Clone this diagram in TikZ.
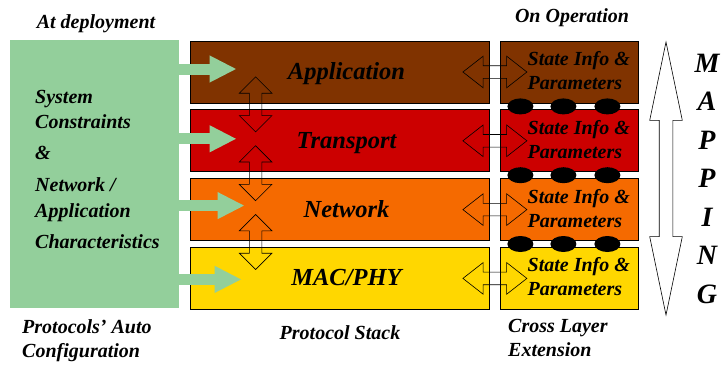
\documentclass[tikz,border=0pt]{standalone}
\usepackage{fontspec}
\setmainfont{Liberation Serif}
\usetikzlibrary{positioning, calc, shapes.arrows, shapes.geometric, arrows.meta}

\definecolor{appbrown}{RGB}{128,51,0}
\definecolor{trnred}{RGB}{204,0,0}
\definecolor{netorange}{RGB}{245,106,0}
\definecolor{macyellow}{RGB}{255,215,0}
\definecolor{sysgreen}{RGB}{147,207,155}

\tikzset{
  txt/.style={font=\bfseries\itshape\fontsize{20}{24}\selectfont, inner sep=0pt},
  stk/.style={font=\bfseries\itshape\fontsize{24.5}{28}\selectfont, inner sep=0pt, text height=15pt, text depth=0pt},
  layer/.style={draw, line width=0.8pt, minimum width=299pt, minimum height=62pt, inner sep=0pt},
  ext/.style={draw, line width=0.8pt, minimum width=138pt, minimum height=62pt, inner sep=0pt},
  bead/.style={ellipse, fill=black, minimum width=26pt, minimum height=16pt, inner sep=0pt},
  garrow/.style={sysgreen, line width=11pt, -{Triangle[length=27pt, width=25pt]}},
  varrow/.style={double arrow, draw, line width=0.6pt, rotate=90, minimum height=55pt,
    inner xsep=0pt, inner ysep=6pt, double arrow head extend=10pt, double arrow tip angle=90},
  harrow/.style={double arrow, draw, line width=0.6pt, minimum height=64pt,
    inner xsep=0pt, inner ysep=6pt, double arrow head extend=9.5pt, double arrow tip angle=76},
  maparrow/.style={double arrow, draw, line width=0.6pt, rotate=90, minimum height=273pt,
    inner xsep=0pt, inner ysep=6.5pt, double arrow head extend=9.5pt, double arrow tip angle=23.5},
  map/.style={font=\bfseries\itshape\fontsize{28}{30}\selectfont, inner sep=0pt}
}

\begin{document}
\begin{tikzpicture}[x=1pt, y=-1pt]
\useasboundingbox (0,0) rectangle (722,364);

\node[fill=sysgreen, minimum width=169pt, minimum height=268pt] (sys) at (94.5,174) {};

\node[layer, fill=appbrown] (app) at (339.5,72) {};
\node[layer, fill=trnred, below=6pt of app] (trn) {};
\node[layer, fill=netorange, below=6pt of trn] (net) {};
\node[layer, fill=macyellow, below=6pt of net] (mac) {};

\node[ext, fill=appbrown, right=11pt of app] (x1) {};
\node[ext, fill=trnred, right=11pt of trn] (x2) {};
\node[ext, fill=netorange, right=11pt of net] (x3) {};
\node[ext, fill=macyellow, right=11pt of mac] (x4) {};

% beads between the cross layer boxes
\foreach \a/\b [count=\k] in {x1/x2, x2/x3, x3/x4}
  \foreach \dx [count=\j] in {20,63,107}
    \node[bead] (b\k\j) at ($(\a.south west)!.5!(\b.north west) + (\dx,0)$) {};

\foreach \n/\t in {app/Application, trn/Transport, net/Network, mac/{MAC/PHY}}
  \node[stk] (t\n) at ([xshift=7pt]\n.center) {\t};

\foreach \n in {1,...,4}
  \node[txt, align=left] (i\n) at ([xshift=9pt, yshift=1.5pt]x\n.center) {State Info \&\\Parameters};

\draw[garrow] ([yshift=3pt]sys.east |- app) -- ([shift={(47pt,3pt)}]app.west);
\draw[garrow] ([yshift=2pt]sys.east |- trn) -- ([shift={(47pt,2pt)}]trn.west);
\draw[garrow] ([yshift=4pt]sys.east |- net) -- ([shift={(55pt,4pt)}]net.west);
\draw[garrow] ([yshift=-1pt]sys.east |- mac) -- ([shift={(52pt,-1pt)}]mac.west);

\node[varrow] (v1) at ($(app.south west)!.5!(trn.north west) + (66,-2)$) {};
\node[varrow] (v2) at ($(trn.south west)!.5!(net.north west) + (66,-2)$) {};
\node[varrow] (v3) at ($(net.south west)!.5!(mac.north west) + (66,-2)$) {};

\node[harrow] (h1) at ($(app.east)!.5!(x1.west)$) {};
\node[harrow] (h2) at ($(trn.east)!.5!(x2.west)$) {};
\node[harrow] (h3) at ($(net.east)!.5!(x3.west)$) {};
\node[harrow] (h4) at ($(mac.east)!.5!(x4.west)$) {};

\node[maparrow] (mp) at (666,178.5) {};
\foreach \c [count=\i] in {M,A,P,P,I,N,G}
  \node[map, anchor=base] (m\i) at (707, 33.5+38.5*\i) {\c};

\node[txt, anchor=base] (dep) at (96,28) {At deployment};
\node[txt, anchor=base] (oper) at (572,22) {On Operation};
\node[txt, font=\bfseries\itshape\fontsize{20}{25.5}\selectfont, align=left, anchor=north west] (cons) at (35,90)
  {System\\Constraints\\[5pt]\&\\[7pt]Network /\\Application\\[6pt]Characteristics};
\node[txt, align=left, anchor=north west] (auto) at (22,319.5) {Protocols' Auto\\Configuration};
\node[txt, anchor=base] (stack) at (340,339) {Protocol Stack};
\node[txt, align=left, anchor=north west] (cross) at (508,319.5) {Cross Layer\\Extension};
\end{tikzpicture}
\end{document}
